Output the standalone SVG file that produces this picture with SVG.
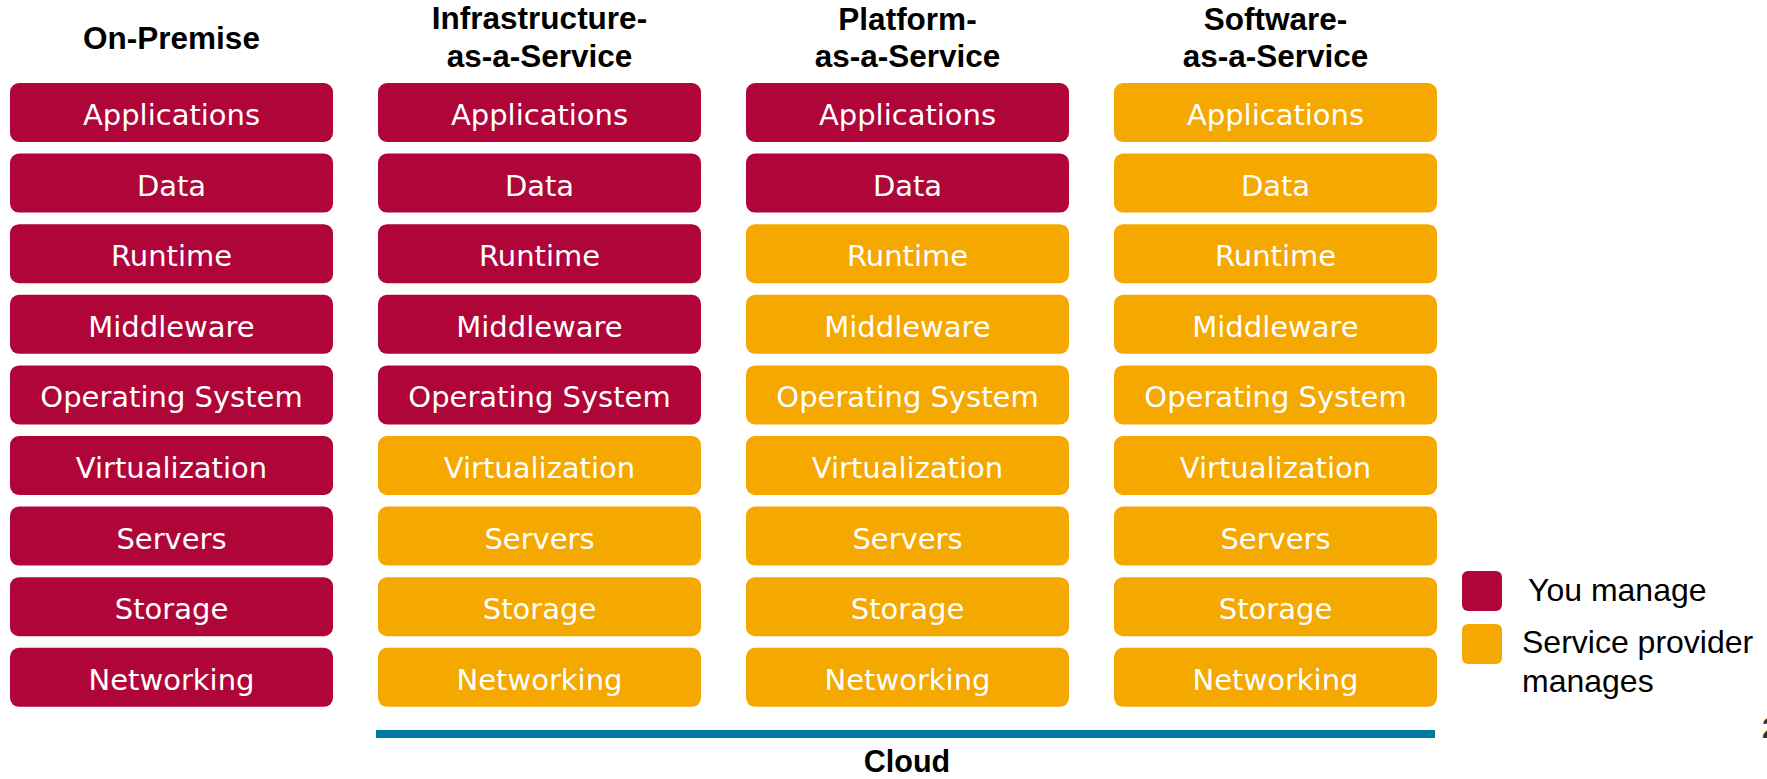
<svg xmlns="http://www.w3.org/2000/svg" width="1767" height="779" viewBox="0 0 1767 779">
<style>
.r{fill:#B00538}
.o{fill:#F5A800}
.bt{font-family:"DejaVu Sans",Verdana,sans-serif;font-size:29px;fill:#ffffff;text-anchor:middle}
.hd{font-family:"Liberation Sans",Arial,sans-serif;font-weight:bold;font-size:31.5px;fill:#000000;text-anchor:middle}
.lg{font-family:"Liberation Sans",Arial,sans-serif;font-size:32px;fill:#000000}
</style>
<rect width="1767" height="779" fill="#ffffff"/>
<g id="headers">
<text class="hd" x="171.5" y="49">On-Premise</text>
<text class="hd" x="539.5" y="29">Infrastructure-</text>
<text class="hd" x="539.5" y="67">as-a-Service</text>
<text class="hd" x="907.5" y="30">Platform-</text>
<text class="hd" x="907.5" y="67">as-a-Service</text>
<text class="hd" x="1275.5" y="30">Software-</text>
<text class="hd" x="1275.5" y="67">as-a-Service</text>
</g>
<g id="col-onprem">
<g id="op-applications"><rect class="r" x="10" y="83" width="323" height="59" rx="9"/><text class="bt" x="171.5" y="125">Applications</text></g>
<g id="op-data"><rect class="r" x="10" y="153.6" width="323" height="59" rx="9"/><text class="bt" x="171.5" y="195.6">Data</text></g>
<g id="op-runtime"><rect class="r" x="10" y="224.2" width="323" height="59" rx="9"/><text class="bt" x="171.5" y="266.2">Runtime</text></g>
<g id="op-middleware"><rect class="r" x="10" y="294.8" width="323" height="59" rx="9"/><text class="bt" x="171.5" y="336.8">Middleware</text></g>
<g id="op-os"><rect class="r" x="10" y="365.4" width="323" height="59" rx="9"/><text class="bt" x="171.5" y="407.4">Operating System</text></g>
<g id="op-virtualization"><rect class="r" x="10" y="436" width="323" height="59" rx="9"/><text class="bt" x="171.5" y="478">Virtualization</text></g>
<g id="op-servers"><rect class="r" x="10" y="506.6" width="323" height="59" rx="9"/><text class="bt" x="171.5" y="548.6">Servers</text></g>
<g id="op-storage"><rect class="r" x="10" y="577.2" width="323" height="59" rx="9"/><text class="bt" x="171.5" y="619.2">Storage</text></g>
<g id="op-networking"><rect class="r" x="10" y="647.8" width="323" height="59" rx="9"/><text class="bt" x="171.5" y="689.8">Networking</text></g>
</g>
<g id="col-iaas">
<g id="ia-applications"><rect class="r" x="378" y="83" width="323" height="59" rx="9"/><text class="bt" x="539.5" y="125">Applications</text></g>
<g id="ia-data"><rect class="r" x="378" y="153.6" width="323" height="59" rx="9"/><text class="bt" x="539.5" y="195.6">Data</text></g>
<g id="ia-runtime"><rect class="r" x="378" y="224.2" width="323" height="59" rx="9"/><text class="bt" x="539.5" y="266.2">Runtime</text></g>
<g id="ia-middleware"><rect class="r" x="378" y="294.8" width="323" height="59" rx="9"/><text class="bt" x="539.5" y="336.8">Middleware</text></g>
<g id="ia-os"><rect class="r" x="378" y="365.4" width="323" height="59" rx="9"/><text class="bt" x="539.5" y="407.4">Operating System</text></g>
<g id="ia-virtualization"><rect class="o" x="378" y="436" width="323" height="59" rx="9"/><text class="bt" x="539.5" y="478">Virtualization</text></g>
<g id="ia-servers"><rect class="o" x="378" y="506.6" width="323" height="59" rx="9"/><text class="bt" x="539.5" y="548.6">Servers</text></g>
<g id="ia-storage"><rect class="o" x="378" y="577.2" width="323" height="59" rx="9"/><text class="bt" x="539.5" y="619.2">Storage</text></g>
<g id="ia-networking"><rect class="o" x="378" y="647.8" width="323" height="59" rx="9"/><text class="bt" x="539.5" y="689.8">Networking</text></g>
</g>
<g id="col-paas">
<g id="pa-applications"><rect class="r" x="746" y="83" width="323" height="59" rx="9"/><text class="bt" x="907.5" y="125">Applications</text></g>
<g id="pa-data"><rect class="r" x="746" y="153.6" width="323" height="59" rx="9"/><text class="bt" x="907.5" y="195.6">Data</text></g>
<g id="pa-runtime"><rect class="o" x="746" y="224.2" width="323" height="59" rx="9"/><text class="bt" x="907.5" y="266.2">Runtime</text></g>
<g id="pa-middleware"><rect class="o" x="746" y="294.8" width="323" height="59" rx="9"/><text class="bt" x="907.5" y="336.8">Middleware</text></g>
<g id="pa-os"><rect class="o" x="746" y="365.4" width="323" height="59" rx="9"/><text class="bt" x="907.5" y="407.4">Operating System</text></g>
<g id="pa-virtualization"><rect class="o" x="746" y="436" width="323" height="59" rx="9"/><text class="bt" x="907.5" y="478">Virtualization</text></g>
<g id="pa-servers"><rect class="o" x="746" y="506.6" width="323" height="59" rx="9"/><text class="bt" x="907.5" y="548.6">Servers</text></g>
<g id="pa-storage"><rect class="o" x="746" y="577.2" width="323" height="59" rx="9"/><text class="bt" x="907.5" y="619.2">Storage</text></g>
<g id="pa-networking"><rect class="o" x="746" y="647.8" width="323" height="59" rx="9"/><text class="bt" x="907.5" y="689.8">Networking</text></g>
</g>
<g id="col-saas">
<g id="sa-applications"><rect class="o" x="1114" y="83" width="323" height="59" rx="9"/><text class="bt" x="1275.5" y="125">Applications</text></g>
<g id="sa-data"><rect class="o" x="1114" y="153.6" width="323" height="59" rx="9"/><text class="bt" x="1275.5" y="195.6">Data</text></g>
<g id="sa-runtime"><rect class="o" x="1114" y="224.2" width="323" height="59" rx="9"/><text class="bt" x="1275.5" y="266.2">Runtime</text></g>
<g id="sa-middleware"><rect class="o" x="1114" y="294.8" width="323" height="59" rx="9"/><text class="bt" x="1275.5" y="336.8">Middleware</text></g>
<g id="sa-os"><rect class="o" x="1114" y="365.4" width="323" height="59" rx="9"/><text class="bt" x="1275.5" y="407.4">Operating System</text></g>
<g id="sa-virtualization"><rect class="o" x="1114" y="436" width="323" height="59" rx="9"/><text class="bt" x="1275.5" y="478">Virtualization</text></g>
<g id="sa-servers"><rect class="o" x="1114" y="506.6" width="323" height="59" rx="9"/><text class="bt" x="1275.5" y="548.6">Servers</text></g>
<g id="sa-storage"><rect class="o" x="1114" y="577.2" width="323" height="59" rx="9"/><text class="bt" x="1275.5" y="619.2">Storage</text></g>
<g id="sa-networking"><rect class="o" x="1114" y="647.8" width="323" height="59" rx="9"/><text class="bt" x="1275.5" y="689.8">Networking</text></g>
</g>
<g id="cloud">
<rect x="376" y="730" width="1059" height="8" fill="#007BA0"/>
<text class="hd" x="907" y="772" style="font-size:30.5px">Cloud</text>
</g>
<g id="legend">
<rect class="r" x="1462" y="571" width="40" height="40" rx="6"/>
<text class="lg" x="1528" y="601">You manage</text>
<rect class="o" x="1462" y="624" width="40" height="40" rx="6"/>
<text class="lg" x="1522" y="653">Service provider</text>
<text class="lg" x="1522" y="692">manages</text>
</g>
<text x="1762" y="738" font-family="Liberation Sans, Arial, sans-serif" font-weight="bold" font-size="30" fill="#333333">2</text>
</svg>
